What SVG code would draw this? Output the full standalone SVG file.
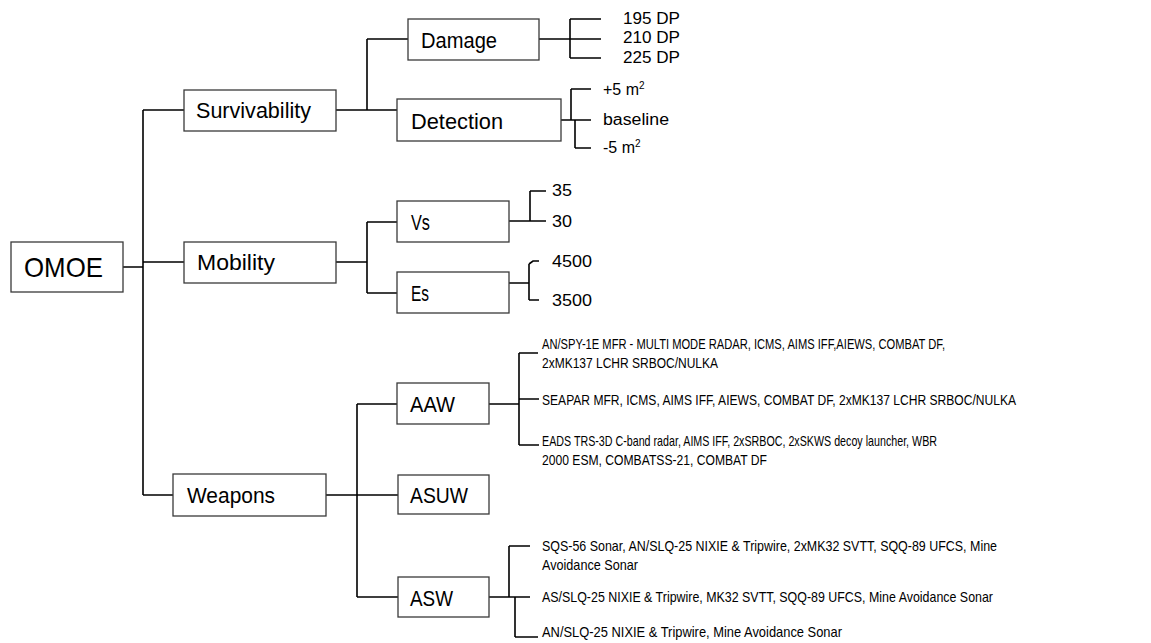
<svg xmlns="http://www.w3.org/2000/svg" width="1151" height="643" viewBox="0 0 1151 643">
<style>
.bg{fill:#ffffff}
.box{fill:#ffffff;stroke:#3a3a3a;stroke-width:1.3}
.ln{fill:none;stroke:#000000;stroke-width:1.6}
.t{font-family:"Liberation Sans",Arial,sans-serif;fill:#000000}
.big{font-size:28px}
.mid{font-size:22px}
.sm{font-size:16px}
.xs{font-size:15px}
</style>
<rect class="bg" x="0" y="0" width="1151" height="643"/>
<g id="connectors">
<path class="ln" d="M123,267H143 M143,110V495 M143,110H184 M143,262H184 M143,495H173"/>
<path class="ln" d="M336,110H397 M367,110V39 M367,39H408"/>
<path class="ln" d="M539,39H570 M570,19V58 M570,19H601 M570,39H601 M570,58H601"/>
<path class="ln" d="M561,120H591 M571,89V120 M571,89H591 M575,120V148 M575,148H591"/>
<path class="ln" d="M336,262H367 M367,222V293 M367,222H397 M367,293H397"/>
<path class="ln" d="M509,221H546 M530,191V221 M530,191H546"/>
<path class="ln" d="M509,283H529 M529,264V300 M529,264L533,261H539 M529,300H539"/>
<path class="ln" d="M326,495H398 M357,404V597 M357,404H397 M357,597H398"/>
<path class="ln" d="M489,404H519 M519,353V445 M519,353H538 M519,399H539 M519,445H539"/>
<path class="ln" d="M489,597H530 M509,546V597 M509,546H530 M515,597V637 M515,637H538"/>
</g>
<g id="omoe"><rect class="box" x="11" y="242" width="112" height="50"/><text class="t big" x="24" y="277" textLength="79" lengthAdjust="spacingAndGlyphs">OMOE</text></g>
<g id="survivability"><rect class="box" x="184" y="90" width="152" height="41"/><text class="t mid" x="196" y="118" textLength="115" lengthAdjust="spacingAndGlyphs">Survivability</text></g>
<g id="mobility"><rect class="box" x="184" y="242" width="152" height="41"/><text class="t mid" x="197" y="270" textLength="78" lengthAdjust="spacingAndGlyphs">Mobility</text></g>
<g id="weapons"><rect class="box" x="173" y="474" width="153" height="42"/><text class="t mid" x="187" y="503" textLength="88" lengthAdjust="spacingAndGlyphs">Weapons</text></g>
<g id="damage"><rect class="box" x="408" y="19" width="131" height="41"/><text class="t mid" x="421" y="48" textLength="76" lengthAdjust="spacingAndGlyphs">Damage</text></g>
<g id="detection"><rect class="box" x="397" y="99" width="164" height="42"/><text class="t mid" x="411" y="129" textLength="92" lengthAdjust="spacingAndGlyphs">Detection</text></g>
<g id="vs"><rect class="box" x="397" y="201" width="112" height="41"/><text class="t mid" x="411" y="230" textLength="19" lengthAdjust="spacingAndGlyphs">Vs</text></g>
<g id="es"><rect class="box" x="397" y="272" width="112" height="41"/><text class="t mid" x="411" y="301" textLength="18" lengthAdjust="spacingAndGlyphs">Es</text></g>
<g id="aaw"><rect class="box" x="397" y="383" width="92" height="41"/><text class="t mid" x="410" y="412" textLength="45" lengthAdjust="spacingAndGlyphs">AAW</text></g>
<g id="asuw"><rect class="box" x="398" y="475" width="91" height="39"/><text class="t mid" x="410" y="503" textLength="58" lengthAdjust="spacingAndGlyphs">ASUW</text></g>
<g id="asw"><rect class="box" x="398" y="577" width="91" height="40"/><text class="t mid" x="410" y="606" textLength="43" lengthAdjust="spacingAndGlyphs">ASW</text></g>
<g id="damage-options">
<text class="t sm" x="623" y="24" textLength="57" lengthAdjust="spacingAndGlyphs">195 DP</text>
<text class="t sm" x="623" y="43" textLength="57" lengthAdjust="spacingAndGlyphs">210 DP</text>
<text class="t sm" x="623" y="63" textLength="57" lengthAdjust="spacingAndGlyphs">225 DP</text>
</g>
<g id="detection-options">
<text class="t sm" x="603" y="95">+5 m<tspan font-size="10" dy="-6">2</tspan></text>
<text class="t sm" x="603" y="125" textLength="66" lengthAdjust="spacingAndGlyphs">baseline</text>
<text class="t sm" x="603" y="153">-5 m<tspan font-size="10" dy="-6">2</tspan></text>
</g>
<g id="vs-options">
<text class="t sm" x="552" y="196" textLength="20" lengthAdjust="spacingAndGlyphs">35</text>
<text class="t sm" x="552" y="227" textLength="20" lengthAdjust="spacingAndGlyphs">30</text>
</g>
<g id="es-options">
<text class="t sm" x="552" y="267" textLength="40" lengthAdjust="spacingAndGlyphs">4500</text>
<text class="t sm" x="552" y="306" textLength="40" lengthAdjust="spacingAndGlyphs">3500</text>
</g>
<g id="aaw-options">
<text class="t xs" x="542" y="349" textLength="403" lengthAdjust="spacingAndGlyphs">AN/SPY-1E MFR - MULTI MODE RADAR, ICMS, AIMS IFF,AIEWS, COMBAT DF,</text>
<text class="t xs" x="542" y="368" textLength="176" lengthAdjust="spacingAndGlyphs">2xMK137 LCHR SRBOC/NULKA</text>
<text class="t xs" x="542" y="405" textLength="474" lengthAdjust="spacingAndGlyphs">SEAPAR MFR, ICMS, AIMS IFF, AIEWS, COMBAT DF, 2xMK137 LCHR SRBOC/NULKA</text>
<text class="t xs" x="542" y="446" textLength="395" lengthAdjust="spacingAndGlyphs">EADS TRS-3D C-band radar, AIMS IFF, 2xSRBOC, 2xSKWS decoy launcher, WBR</text>
<text class="t xs" x="542" y="465" textLength="225" lengthAdjust="spacingAndGlyphs">2000 ESM, COMBATSS-21, COMBAT DF</text>
</g>
<g id="asw-options">
<text class="t xs" x="542" y="551" textLength="455" lengthAdjust="spacingAndGlyphs">SQS-56 Sonar, AN/SLQ-25 NIXIE &amp; Tripwire, 2xMK32 SVTT, SQQ-89 UFCS, Mine</text>
<text class="t xs" x="542" y="570" textLength="96" lengthAdjust="spacingAndGlyphs">Avoidance Sonar</text>
<text class="t xs" x="542" y="602" textLength="451" lengthAdjust="spacingAndGlyphs">AS/SLQ-25 NIXIE &amp; Tripwire, MK32 SVTT, SQQ-89 UFCS, Mine Avoidance Sonar</text>
<text class="t xs" x="542" y="637" textLength="300" lengthAdjust="spacingAndGlyphs">AN/SLQ-25 NIXIE &amp; Tripwire, Mine Avoidance Sonar</text>
</g>
</svg>
